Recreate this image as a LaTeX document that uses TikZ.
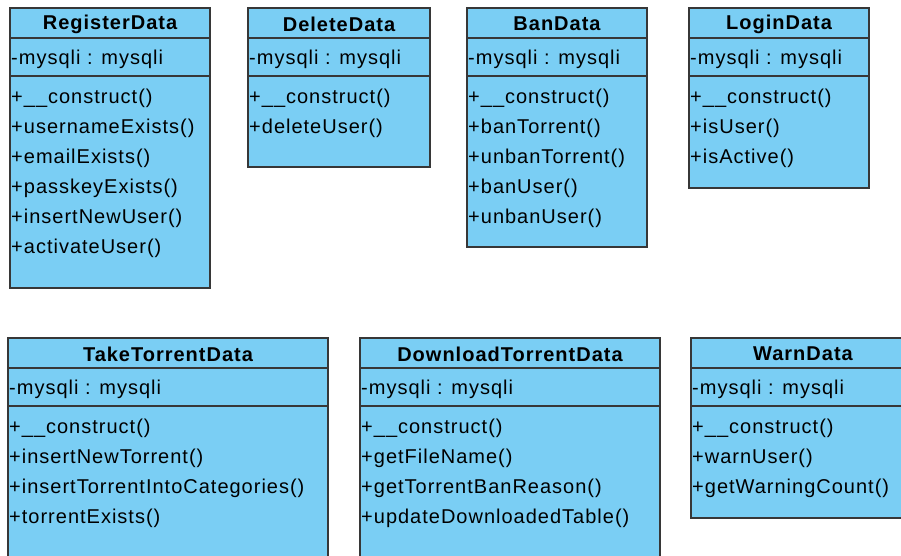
\documentclass[tikz,border=0pt]{standalone}
\usepackage{fontspec}
\setmainfont{Liberation Sans}
\newfontfamily\umlfont[LetterSpace=5]{Liberation Sans}
\definecolor{classblue}{RGB}{122,206,244}
\definecolor{classedge}{RGB}{55,55,55}
\tikzset{
  classbox/.style={draw=classedge,fill=classblue,line width=1.3pt},
  classrule/.style={draw=classedge,line width=1.3pt},
  classtitle/.style={font=\umlfont\fontsize{20}{22}\selectfont\bfseries,inner sep=0pt},
  member/.style={font=\umlfont\fontsize{20}{22}\selectfont,anchor=west,inner sep=1pt},
}
% one class box: id, x1, y1, x2, y2, title, methods
\newcommand{\umlclass}[7]{
  \draw[classbox] (#2,#3) rectangle (#4,#5);
  \draw[classrule] (#2,{#3+30}) -- (#4,{#3+30});
  \draw[classrule] (#2,{#3+68}) -- (#4,{#3+68});
  \node[classtitle] (#1-title) at ({(#2+#4)/2},{#3+16}) {#6};
  \node[member] (#1-attr) at (#2,{#3+51}) {-mysqli : mysqli};
  \foreach \m [count=\i] in {#7}
    \node[member] (#1-m\i) at (#2,{#3+60+30*\i}) {\m};
}
\begin{document}
\begin{tikzpicture}[x=1pt,y=-1pt]
  \useasboundingbox (0,0) rectangle (901,556);
  \clip (0,0) rectangle (901,556);
  \fill[white] (0,0) rectangle (901,556);
  % top row
  \umlclass{reg}{10}{8}{210}{288}{RegisterData}
    {{+\_\_construct()},{+usernameExists()},{+emailExists()},{+passkeyExists()},{+insertNewUser()},{+activateUser()}}
  \umlclass{del}{248}{8}{430}{167}{DeleteData}
    {{+\_\_construct()},{+deleteUser()}}
  \umlclass{ban}{467}{8}{647}{247}{BanData}
    {{+\_\_construct()},{+banTorrent()},{+unbanTorrent()},{+banUser()},{+unbanUser()}}
  \umlclass{login}{689}{8}{869}{188}{LoginData}
    {{+\_\_construct()},{+isUser()},{+isActive()}}
  % bottom row
  \umlclass{take}{8}{338}{328}{580}{TakeTorrentData}
    {{+\_\_construct()},{+insertNewTorrent()},{+insertTorrentIntoCategories()},{+torrentExists()}}
  \umlclass{down}{360}{338}{660}{580}{DownloadTorrentData}
    {{+\_\_construct()},{+getFileName()},{+getTorrentBanReason()},{+updateDownloadedTable()}}
  \umlclass{warn}{691}{338}{915}{518}{WarnData}
    {{+\_\_construct()},{+warnUser()},{+getWarningCount()}}
\end{tikzpicture}
\end{document}
